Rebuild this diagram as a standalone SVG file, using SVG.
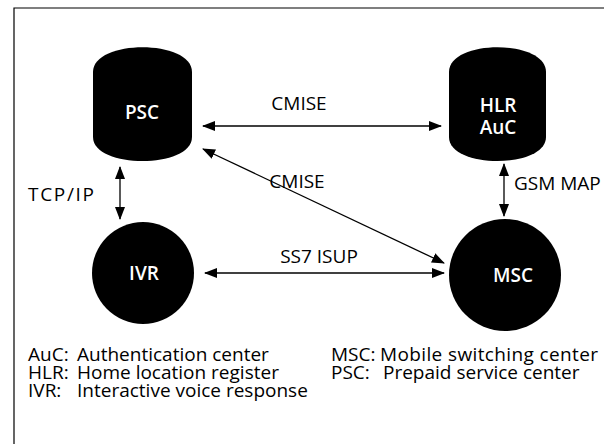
<svg xmlns="http://www.w3.org/2000/svg" width="608" height="444" viewBox="0 0 608 444">
  <style>
    .node { fill: #000; }
    .nlabel { fill: #fff; font-family: "Open Sans", "Noto Sans", sans-serif; font-size: 19px; font-weight: 600; text-anchor: middle; }
    .elabel { fill: #000; font-family: "Open Sans", "Noto Sans", sans-serif; font-size: 19px; }
    .legend { fill: #000; font-family: "Open Sans", "Noto Sans", sans-serif; font-size: 19px; }
    .link { stroke: #000; stroke-width: 1.3; fill: none; marker-start: url(#arrow); marker-end: url(#arrow); }
    .frame { stroke: #000; stroke-width: 1.2; fill: none; }
  </style>
  <defs>
    <marker id="arrow" viewBox="0 0 13 10" refX="12" refY="5" markerWidth="13" markerHeight="10" markerUnits="userSpaceOnUse" orient="auto-start-reverse">
      <path d="M0,0 L13,5 L0,10 Z" fill="#000"/>
    </marker>
  </defs>
  <rect width="608" height="444" fill="#fff"/>

  <!-- frame: top and left rule -->
  <path class="frame" d="M14,444 V8 H604"/>

  <!-- connectors -->
  <g id="connectors">
    <line class="link" x1="203" y1="126" x2="441" y2="126"/>
    <text class="elabel" x="299" y="110" text-anchor="middle">CMISE</text>
    <line class="link" x1="203" y1="149" x2="444" y2="263"/>
    <text class="elabel" x="297" y="188" text-anchor="middle">CMISE</text>
    <line class="link" x1="120" y1="167" x2="120" y2="219"/>
    <text class="elabel" x="28" y="201" textLength="66">TCP/IP</text>
    <line class="link" x1="504" y1="164" x2="504" y2="216"/>
    <text class="elabel" x="514" y="190">GSM MAP</text>
    <line class="link" x1="205" y1="273" x2="444" y2="273"/>
    <text class="elabel" x="319" y="263" text-anchor="middle">SS7 ISUP</text>
  </g>

  <!-- nodes -->
  <g id="psc">
    <path class="node" d="M93,72 C93,39 192,39 192,72 V137 C192,169 93,169 93,137 Z"/>
    <text class="nlabel" x="142" y="119">PSC</text>
  </g>
  <g id="hlr">
    <path class="node" d="M449,72 C449,39 546,39 546,72 V137 C546,169 449,169 449,137 Z"/>
    <text class="nlabel" x="498" y="112">HLR</text>
    <text class="nlabel" x="498" y="134">AuC</text>
  </g>
  <g id="ivr">
    <circle class="node" cx="143" cy="273" r="51"/>
    <text class="nlabel" x="144" y="280">IVR</text>
  </g>
  <g id="msc">
    <circle class="node" cx="505" cy="275" r="56"/>
    <text class="nlabel" x="513" y="282">MSC</text>
  </g>

  <!-- legend -->
  <g id="legend" class="legend">
    <text x="28" y="361">AuC:</text>
    <text x="77" y="361">Authentication center</text>
    <text x="28" y="379">HLR:</text>
    <text x="77" y="379">Home location register</text>
    <text x="28" y="397">IVR:</text>
    <text x="77" y="397">Interactive voice response</text>
    <text x="331" y="361">MSC:</text>
    <text x="380" y="361" textLength="218">Mobile switching center</text>
    <text x="331" y="379">PSC:</text>
    <text x="383" y="379">Prepaid service center</text>
  </g>
</svg>
